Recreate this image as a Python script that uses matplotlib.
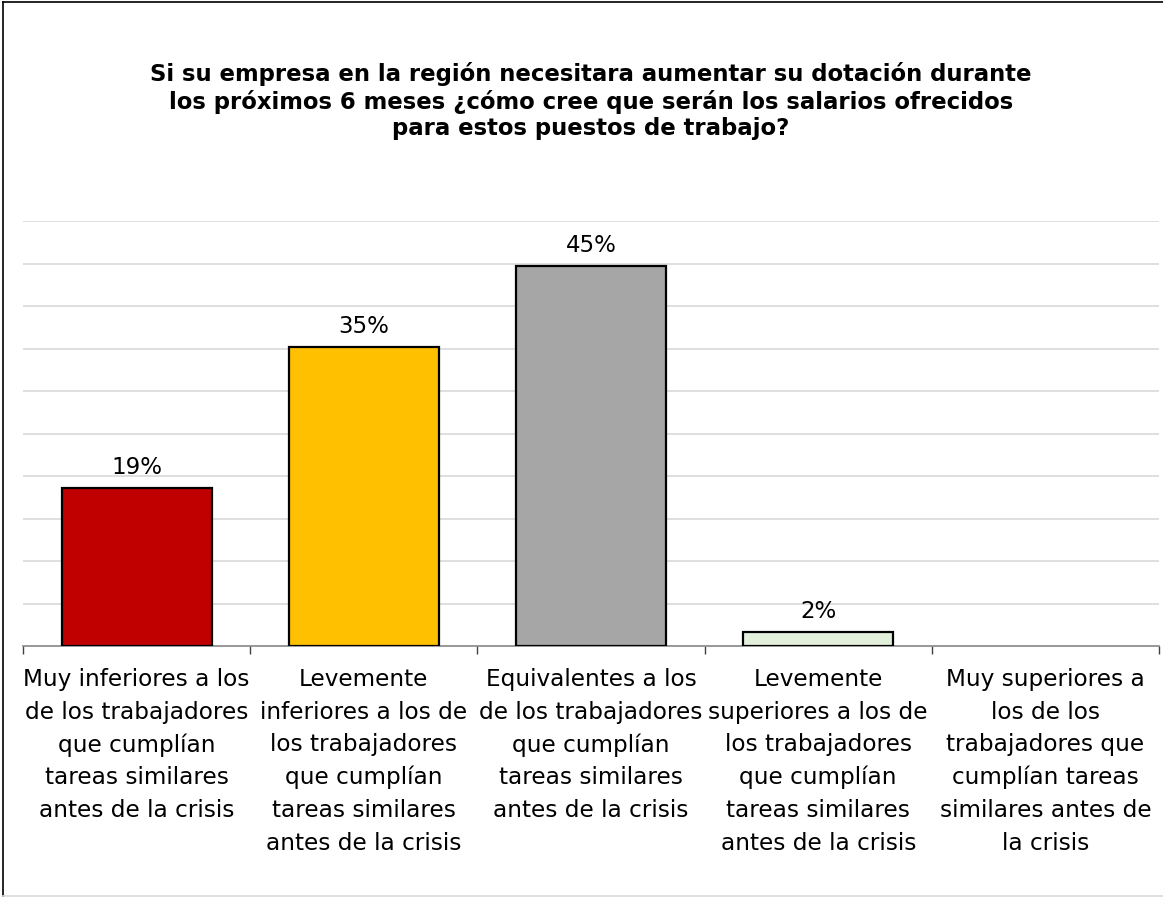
import matplotlib.pyplot as plt
from matplotlib.lines import Line2D

categorias = [
    "Muy inferiores a los\nde los trabajadores\nque cumplían\ntareas similares\nantes de la crisis",
    "Levemente\ninferiores a los de\nlos trabajadores\nque cumplían\ntareas similares\nantes de la crisis",
    "Equivalentes a los\nde los trabajadores\nque cumplían\ntareas similares\nantes de la crisis",
    "Levemente\nsuperiores a los de\nlos trabajadores\nque cumplían\ntareas similares\nantes de la crisis",
    "Muy superiores a\nlos de los\ntrabajadores que\ncumplían tareas\nsimilares antes de\nla crisis",
]
valores = [18.6, 35.2, 44.7, 1.7, 0]
colores = ["#C00000", "#FFC000", "#A6A6A6", "#E2EFDA", "#FFFFFF"]

titulo = ("Si su empresa en la región necesitara aumentar su dotación durante\n"
          "los próximos 6 meses ¿cómo cree que serán los salarios ofrecidos\n"
          "para estos puestos de trabajo?")

plt.rcParams['font.family'] = ['DejaVu Sans']

fig = plt.figure(figsize=(11.63, 8.98), dpi=100)
ax = fig.add_axes([23 / 1163, 252 / 898, 1136 / 1163, 425 / 898])

for i, v in enumerate(valores):
    if v > 0:
        ax.bar(i, v, width=0.66, color=colores[i], edgecolor='black', linewidth=1.6, zorder=3)
        ax.annotate(f"{round(v)}%", (i, v), xytext=(0, 6.5), textcoords='offset points',
                    ha='center', va='bottom', fontsize=16.5)

ax.set_xlim(-0.5, len(valores) - 0.5)
ax.set_ylim(0, 50)
ax.set_yticks(range(5, 51, 5))
ax.yaxis.grid(True, color='#D9D9D9', linewidth=1.2)
ax.tick_params(axis='y', left=False, labelleft=False)
ax.set_xticks([])
ax.set_xticks([i - 0.5 for i in range(len(valores) + 1)], minor=True)
ax.tick_params(axis='x', which='minor', direction='out', length=6, color='#404040', width=1)
for s in ['top', 'right', 'left']:
    ax.spines[s].set_visible(False)
ax.spines['bottom'].set_color('#868686')
ax.spines['bottom'].set_linewidth(1.2)

trans = ax.get_xaxis_transform()
for i, c in enumerate(categorias):
    ax.text(i, -0.052, c, transform=trans, ha='center', va='top',
            fontsize=16.7, linespacing=1.53)

fig.text(0.508, 1 - 101 / 898, titulo, ha='center', va='center', fontsize=16.4,
         fontweight='bold', linespacing=1.18)

# borde del gráfico
fig.add_artist(Line2D([3 / 1163, 3 / 1163], [0.002, 1 - 2 / 898], color='black', linewidth=1.2))
fig.add_artist(Line2D([3 / 1163, 1], [1 - 2 / 898, 1 - 2 / 898], color='black', linewidth=1.2))
fig.add_artist(Line2D([3 / 1163, 1], [0.002, 0.002], color='#D9D9D9', linewidth=1.2))

fig.savefig('out.png', dpi=100)
